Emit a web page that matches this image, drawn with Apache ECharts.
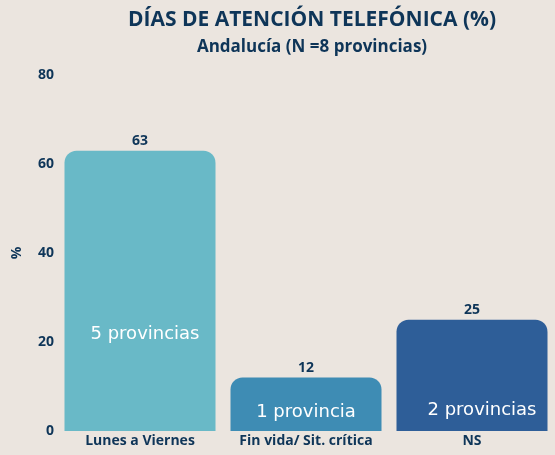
<!DOCTYPE html>
<html>
<head>
  <meta charset="utf-8">
  <style type="text/css">
    body, html, #main {
      height: 100%;
      width: 100%;
      margin: 0;
      background: #ebe5df;
    }
  </style>
  <script src="https://cdn.jsdelivr.net/npm/echarts@6/dist/echarts.min.js"></script>
</head>
<body>
  <div id="main"></div>
  <script>
    // data
    var categories = ['Lunes a Viernes', 'Fin vida/ Sit. crítica', 'NS']
    var values = [63, 12, 25]
    var provinceLabels = ['5 provincias', '1 provincia', '2 provincias']
    var yTicks = [0, 20, 40, 60, 80]

    var colors = ['#69b9c7', '#3e8cb4', '#2e5e98']
    // where the inner text sits (distance from bar bottom, x shift)
    var innerPos = [[88, 5], [10, 0], [12, 10]]
    var navy = '#0e3558'

    var chart = echarts.init(document.getElementById('main'), null, { renderer: 'canvas' })

    chart.setOption({
      backgroundColor: '#ebe5df',
      title: [{
        text: 'DÍAS DE ATENCIÓN TELEFÓNICA (%)',
        left: 307, top: 5, textAlign: 'center',
        textStyle: { fontFamily: 'Open Sans', fontWeight: 'bold', fontSize: 21, color: navy }
      }, {
        text: 'Andalucía (N =8 provincias)',
        left: 307, top: 34, textAlign: 'center',
        textStyle: { fontFamily: 'Open Sans', fontWeight: 'bold', fontSize: 17, color: navy }
      }],
      grid: { left: 57, right: -4, top: 75, bottom: 24, containLabel: false },
      xAxis: {
        type: 'category',
        data: categories,
        axisLine: { show: false },
        axisTick: { show: false },
        axisLabel: { interval: 0, fontFamily: 'Open Sans', fontWeight: 'bold', fontSize: 14, color: navy, margin: 3 }
      },
      yAxis: {
        type: 'value',
        min: yTicks[0], max: yTicks[yTicks.length - 1], interval: 20,
        name: '%', nameLocation: 'middle', nameGap: 33, nameRotate: 90,
        nameTextStyle: { fontFamily: 'Open Sans', fontWeight: 'bold', fontSize: 14, color: navy },
        splitLine: { show: false },
        axisLine: { show: false },
        axisTick: { show: false },
        axisLabel: { fontFamily: 'Open Sans', fontWeight: 'bold', fontSize: 14, color: navy, margin: 3 }
      },
      series: [{
        type: 'bar',
        barWidth: 151,
        data: values.map(function (v, i) {
          return { value: v, itemStyle: { color: colors[i] } }
        }),
        itemStyle: { borderRadius: [12, 12, 0, 0] },
        label: {
          show: true, position: 'top', distance: 3,
          fontFamily: 'Open Sans', fontWeight: 'bold', fontSize: 14, color: navy
        }
      }, {
        type: 'bar',
        barWidth: 151,
        barGap: '-100%',
        silent: true,
        itemStyle: { color: 'transparent' },
        data: values.map(function (v, i) {
          return {
            value: v,
            label: {
              show: true, position: 'insideBottom',
              distance: innerPos[i][0], offset: [innerPos[i][1], 0],
              formatter: provinceLabels[i]
            }
          }
        }),
        label: { fontFamily: 'DejaVu Sans', fontSize: 18, color: '#ffffff' }
      }]
    })
  </script>
</body>
</html>
